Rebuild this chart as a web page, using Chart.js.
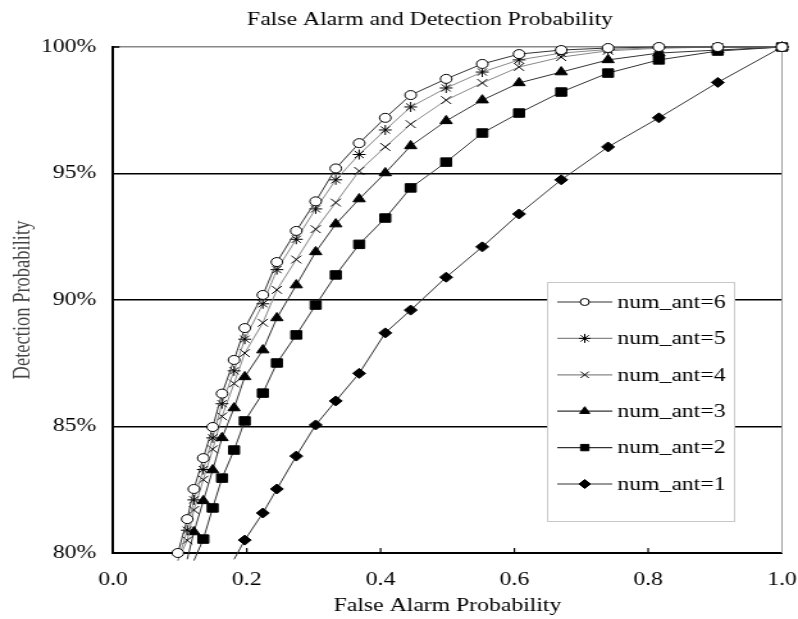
<!doctype html>
<html>
  <head>
    <meta charset="utf-8" />
    <title>False Alarm and Detection Probability</title>
    <script src="https://cdn.jsdelivr.net/npm/chart.js@4/dist/chart.umd.min.js"></script>
    <style>
      html, body { margin: 0; padding: 0; background: #fff; overflow: hidden; }
      /* the source picture is stretched sideways, so the canvas is too */
      #wrap { width: 623px; height: 619px; transform: scaleX(1.2809); transform-origin: 0 0; }
    </style>
    <script>
      document.addEventListener("DOMContentLoaded", iniciar);

      // false alarm probability, shared by all the curves
      const falseAlarm = [0.097, 0.111, 0.121, 0.135, 0.149, 0.163, 0.181, 0.197, 0.224, 0.245, 0.274, 0.303,
        0.333, 0.368, 0.407, 0.445, 0.498, 0.552, 0.607, 0.670, 0.740, 0.816, 0.904, 1.0];

      // detection probability (%) for each number of antennas
      const ant6 = [80.0, 81.34, 82.53, 83.75, 84.98, 86.3, 87.63, 88.89, 90.2, 91.5, 92.73, 93.9,
        95.2, 96.2, 97.2, 98.1, 98.74, 99.33, 99.72, 99.88, 99.96, 100, 100, 100];
      const ant5 = [79.7, 80.9, 82.1, 83.3, 84.55, 85.9, 87.2, 88.45, 89.85, 91.2, 92.4, 93.6,
        94.75, 95.75, 96.72, 97.63, 98.38, 99.01, 99.49, 99.76, 99.9, 99.97, 100, 100];
      const ant4 = [79.7, 80.5, 81.7, 82.9, 84.1, 85.4, 86.7, 87.9, 89.1, 90.4, 91.6, 92.8,
        93.85, 95.1, 96.05, 96.95, 97.9, 98.58, 99.21, 99.6, 99.85, 99.95, 100, 100];
      const ant3 = [null, 79.75, 80.83, 82.06, 83.28, 84.55, 85.73, 86.96, 88.02, 89.29, 90.59, 91.9,
        93.0, 93.99, 95.02, 96.09, 97.08, 97.9, 98.58, 99.01, 99.49, 99.76, 99.88, 100];
      const ant2 = [null, null, 79.7, 80.55, 81.78, 82.96, 84.07, 85.22, 86.32, 87.51, 88.62, 89.8,
        90.99, 92.2, 93.24, 94.43, 95.45, 96.6, 97.39, 98.22, 98.97, 99.49, 99.84, 100];
      const ant1 = [null, null, null, null, null, null, 79.75, 80.51, 81.58, 82.53, 83.83, 85.06,
        86.01, 87.1, 88.7, 89.6, 90.9, 92.1, 93.4, 94.75, 96.05, 97.2, 98.6, 100];

      const etiquetas = ["num_ant=6", "num_ant=5", "num_ant=4", "num_ant=3", "num_ant=2", "num_ant=1"];
      const xTicks = [0, 0.2, 0.4, 0.6, 0.8, 1.0];
      const yTicks = [80, 85, 90, 95, 100];
      const titulo = "False Alarm and Detection Probability";

      const serif = '"Liberation Serif", "Times New Roman", serif';

      function puntos(serie) {
        return falseAlarm
          .map((x, i) => ({ x: x, y: serie[i] }))
          .filter((p) => p.y !== null);
      }

      function serie(label, data, estilo, radio, relleno, linea) {
        return {
          label: label,
          data: puntos(data),
          borderColor: linea,
          borderWidth: 1,
          pointStyle: estilo,
          pointRadius: (c) => (c.raw && c.raw.y < 80 ? 0 : radio),
          pointBackgroundColor: relleno,
          pointBorderColor: "#000",
          pointBorderWidth: 1,
          tension: 0,
          clip: false,
        };
      }

      // title and legend drawn where the original has them
      const leyenda = {
        id: "leyenda",
        afterDraw(chart) {
          const ctx = chart.ctx;
          ctx.save();
          ctx.fillStyle = "#000";
          ctx.font = "18.5px " + serif;
          ctx.textAlign = "center";
          ctx.textBaseline = "middle";
          ctx.fillText(titulo, 335.7, 20);

          ctx.fillStyle = "#fff";
          ctx.strokeStyle = "#c8c8c8";
          ctx.lineWidth = 1;
          ctx.fillRect(427, 282, 146, 239);
          ctx.strokeRect(427.5, 282.5, 146, 239);
          chart.data.datasets.forEach((ds, i) => {
            const y = 302 + i * 36.4;
            ctx.strokeStyle = ds.borderColor;
            ctx.lineWidth = 1.2;
            ctx.beginPath();
            ctx.moveTo(435, y);
            ctx.lineTo(478, y);
            ctx.stroke();
            ctx.fillStyle = ds.pointBackgroundColor;
            ctx.strokeStyle = "#000";
            ctx.lineWidth = 1;
            const r = ds.pointStyle === "circle" ? 3.5 : 4.5;
            if (Chart.helpers && Chart.helpers.drawPoint) {
              Chart.helpers.drawPoint(ctx, { pointStyle: ds.pointStyle, radius: r, rotation: 0, borderWidth: 1 }, 456.5, y);
            }
            ctx.fillStyle = "#000";
            ctx.textAlign = "left";
            ctx.fillText(ds.label, 482, y + 1);
          });
          ctx.restore();
        },
      };

      // inside tick marks, grey plot border on the right
      const marco = {
        id: "marco",
        beforeDatasetsDraw(chart) {
          const { ctx, chartArea, scales } = chart;
          ctx.save();
          ctx.strokeStyle = "#999";
          ctx.lineWidth = 1;
          ctx.beginPath();
          ctx.moveTo(chartArea.right, chartArea.top);
          ctx.lineTo(chartArea.right, chartArea.bottom);
          ctx.stroke();
          ctx.strokeStyle = "#000";
          ctx.lineWidth = 1.2;
          xTicks.slice(1, -1).forEach((v) => {
            const px = scales.x.getPixelForValue(v);
            ctx.beginPath();
            ctx.moveTo(px, chartArea.bottom);
            ctx.lineTo(px, chartArea.bottom - 5);
            ctx.stroke();
          });
          const py = scales.y.getPixelForValue(100);
          ctx.lineWidth = 1.5;
          ctx.beginPath();
          ctx.moveTo(chartArea.left, py);
          ctx.lineTo(chartArea.left + 5, py);
          ctx.stroke();
          ctx.restore();
        },
      };

      function iniciar() {
        Chart.defaults.font.family = serif;
        Chart.defaults.color = "#000";
        const canvas = document.getElementById("chart");
        new Chart(canvas, {
          type: "line",
          data: {
            datasets: [
              serie(etiquetas[0], ant6, "circle", 4.5, "#fff", "#333"),
              serie(etiquetas[1], ant5, "star", 5, "#000", "#888"),
              serie(etiquetas[2], ant4, "crossRot", 5.5, "#000", "#888"),
              serie(etiquetas[3], ant3, "triangle", 5.5, "#000", "#333"),
              serie(etiquetas[4], ant2, "rect", 6, "#000", "#333"),
              serie(etiquetas[5], ant1, "rectRot", 5, "#000", "#333"),
            ],
          },
          options: {
            responsive: false,
            animation: false,
            layout: { padding: { left: 0, right: 12.5, top: 47, bottom: 0 } },
            plugins: {
              legend: { display: false },
              tooltip: { enabled: false },
              title: { display: false },
            },
            scales: {
              x: {
                type: "linear",
                min: 0,
                max: 1,
                afterFit: (s) => {
                  s.height = 66;
                  s.paddingLeft = 0;
                  s.paddingRight = 0;
                },
                afterBuildTicks: (s) => { s.ticks = xTicks.map((v) => ({ value: v })); },
                ticks: {
                  padding: 16,
                  maxRotation: 0,
                  font: { size: 18.5 },
                  color: "#000",
                  callback: (v) => Number(v).toFixed(1),
                },
                grid: { display: false, drawTicks: false },
                border: { display: true, color: "#000", width: 2 },
                title: {
                  display: true,
                  text: "False Alarm Probability",
                  color: "#000",
                  font: { size: 18.5 },
                  padding: { top: 0, bottom: 2 },
                },
              },
              y: {
                min: 80,
                max: 100,
                afterFit: (s) => {
                  s.width = 88.2;
                  s.paddingTop = 0;
                  s.paddingBottom = 0;
                },
                afterBuildTicks: (s) => { s.ticks = yTicks.map((v) => ({ value: v })); },
                ticks: {
                  padding: 13,
                  font: { size: 18.5 },
                  color: "#000",
                  callback: (v) => v + "%",
                },
                grid: {
                  drawTicks: false,
                  color: (c) => (c.tick && c.tick.value === 100 ? "#888" : "#000"),
                  lineWidth: (c) => (c.tick && c.tick.value === 80 ? 0 : 1.5),
                },
                border: { display: true, color: "#000", width: 2 },
                title: {
                  display: true,
                  text: "Detection Probability",
                  color: "#444",
                  font: { size: 18.5 },
                  padding: { top: 7, bottom: 0 },
                },
              },
            },
          },
          plugins: [marco, leyenda],
        });
      }
    </script>
  </head>
  <body>
    <div id="wrap">
      <canvas id="chart" width="623" height="619"></canvas>
    </div>
  </body>
</html>
